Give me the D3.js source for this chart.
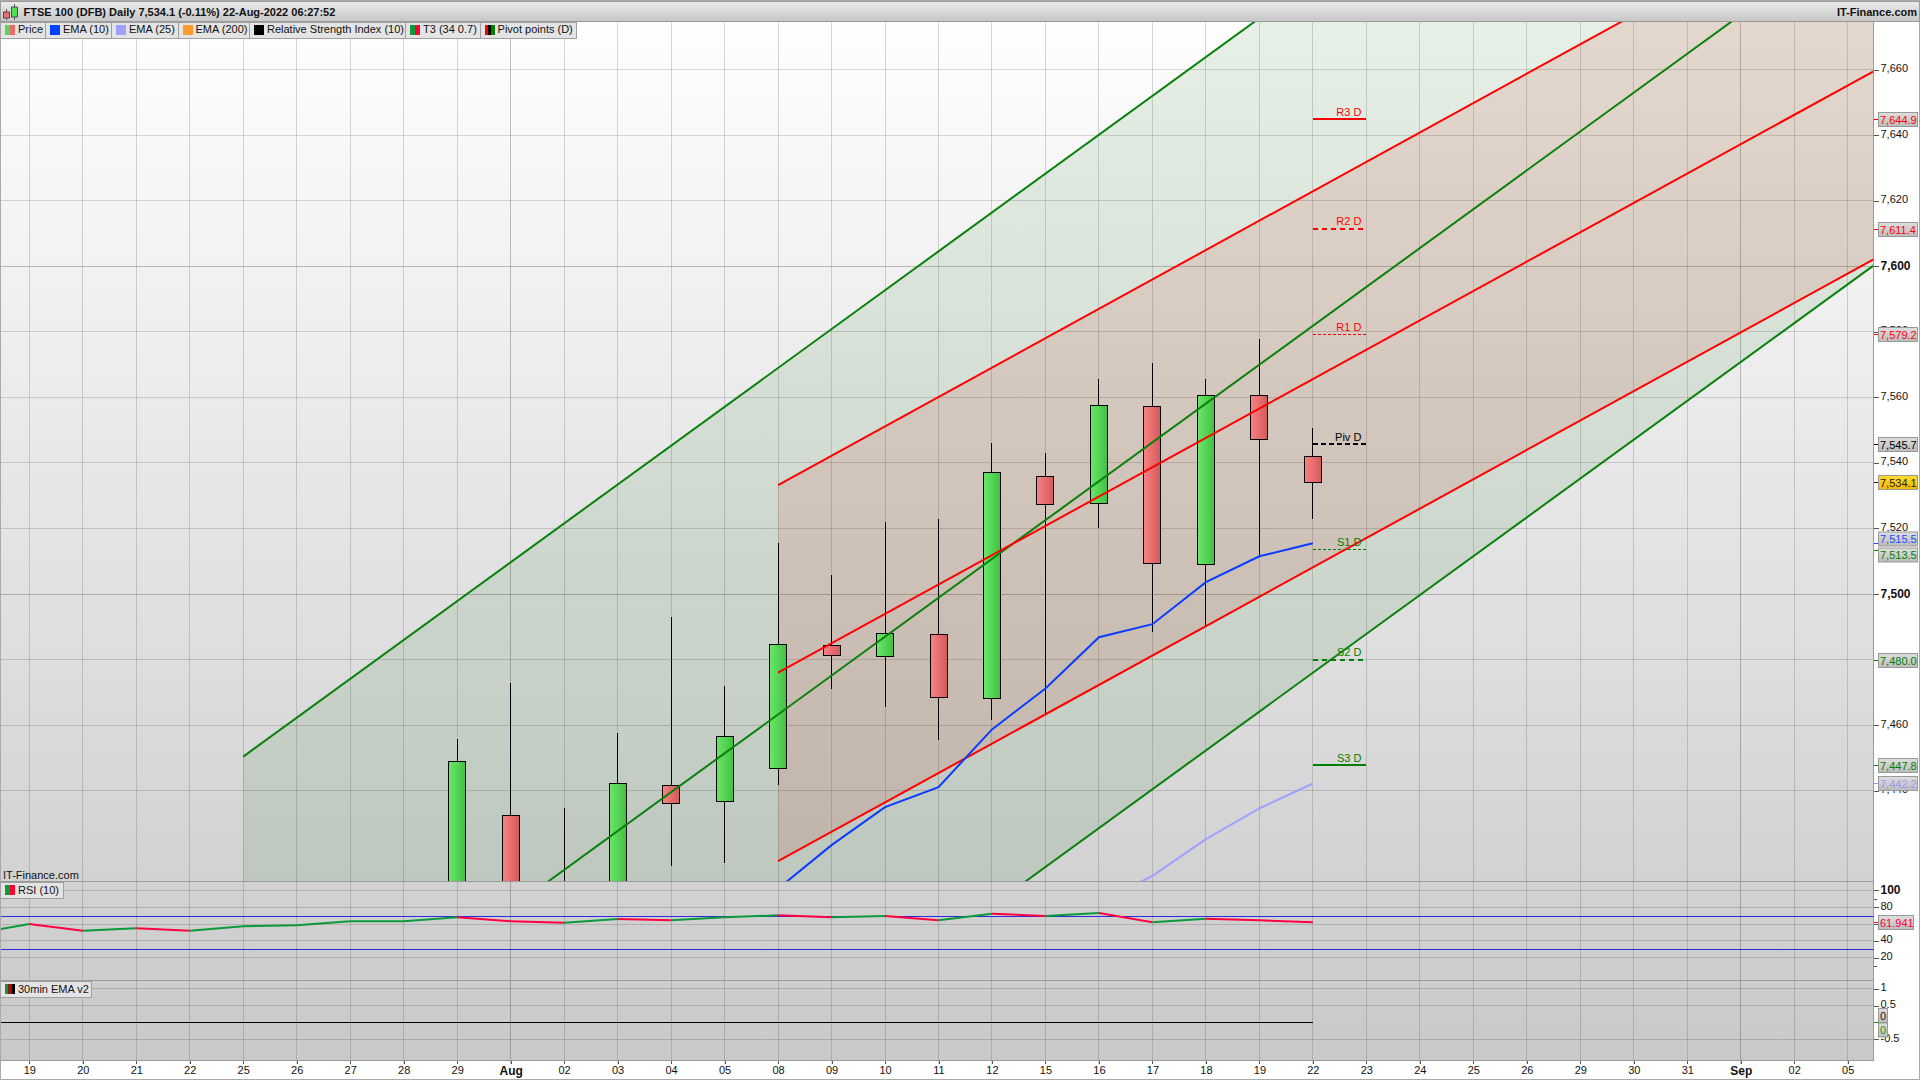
<!DOCTYPE html>
<html><head><meta charset="utf-8">
<script src="https://d3js.org/d3.v7.min.js"></script>
<style>
html,body{margin:0;padding:0;background:#fff;width:1920px;height:1080px;overflow:hidden}
svg{display:block;font-family:"Liberation Sans",Arial,sans-serif}
text{fill:#111}
</style></head><body><svg id="c" width="1920" height="1080"></svg>
<script>
// ---- data ----
const xLabels=['19','20','21','22','25','26','27','28','29','Aug','02','03','04','05','08','09','10','11','12','15','16','17','18','19','22','23','24','25','26','29','30','31','Sep','02','05'];
const candleIdx =[8,9,10,11,12,13,14,15,16,17,18,19,20,21,22,23,24];
const candleHigh=[7455.7,7472.8,7434.6,7457.5,7493,7471.8,7515.5,7505.8,7521.9,7522.9,7546,7542.9,7565.5,7570.4,7565.5,7577.7,7550.5];
const candleLow =[7380,7380,7380,7380,7417.1,7418,7441.8,7471.1,7465.6,7455.6,7461.7,7463.6,7520.2,7488.5,7490.2,7511.8,7522.9];
const candleOpen=[7395,7432.7,7395,7395,7441.8,7436.8,7446.8,7484.3,7481,7487.7,7468.2,7535.9,7527.7,7557.3,7509.1,7560.6,7542];
const candleClose=[7449,7395,7395,7442.2,7436.4,7456.6,7484.7,7481.3,7488,7468.5,7537.1,7527.4,7557.6,7509.4,7560.6,7547.2,7534.1];
const ema10Idx=[14,15,16,17,18,19,20,21,22,23,24];
const ema10=[7410.1,7423.4,7435,7441.1,7458.7,7471.2,7486.8,7490.8,7503.6,7511.5,7515.5];
const ema25Idx=[20,21,22,23,24];
const ema25=[7405.8,7414,7425.2,7434.6,7442.2];
const rsiIdx=[-0.55,0,1,2,3,4,5,6,7,8,9,10,11,12,13,14,15,16,17,18,19,20,21,22,23,24];
const rsi=[53.7,60,52,54.9,52,57.3,58.5,63.2,63.2,68,63.2,61.5,65.9,64.4,68,70.3,68,69.5,64.4,72.2,69.5,73.1,62,66.3,64.4,61.941];
const rsiLevels=[68.5,30];
const channelEndIdx=34.5;
const greenStartIdx=4;
const greenStart=[7450.4,7344.7,7239];
const greenEnd=[7812,7706.3,7600.4];
const redStartIdx=14;
const redStart=[7533.2,7476,7418.5];
const redEnd=[7717,7659.6,7602.2];
const pivotNames=['R3 D','R2 D','R1 D','Piv D','S1 D','S2 D','S3 D'];
const pivotValues=[7644.9,7611.4,7579.2,7545.7,7513.5,7480,7447.8];
const pivotColors=['#ff0000','#ff0000','#ff0000','#000000','#008000','#008000','#008000'];
const pivotWidths=[2,2,1,2,1,2,2];
const pivotDash=[null,'5 4','3 2','5 3','3 2','5 4',null];
const priceTicks=[7440,7460,7480,7500,7520,7540,7560,7580,7600,7620,7640,7660];
const priceBold=[7500,7600];
const rsiTicks=[100,80,60,40,20];
const rsiMinor=[90,10];
const emaTicks=[1,0.5,0,-0.5];
const legendNames=['Price','EMA (10)','EMA (25)','EMA (200)','Relative Strength Index (10)','T3 (34 0.7)','Pivot points (D)'];
const legendColors=[['#5fd35f','#e86a6a'],['#0040ff'],['#9f9fff'],['#ff9a2e'],['#000000'],['#0a9a3a','#ff0030'],['#ff0000','#000000','#008000']];
const legendEdges=[1,45,111,177.5,249,405,479.6,575.5];
const title='FTSE 100 (DFB) Daily 7,534.1 (-0.11%) 22-Aug-2022 06:27:52';

// ---- layout ----
const L=1,R=1873.5,T=22,MB=881,RB=980.5,EB=1060.5,W=1920,H=1080;
const svg=d3.select('#c');
const x=d3.scaleLinear().domain([0,34]).range([29.3,1847.7]);
const y=d3.scaleLinear().domain([7440,7660]).range([790.7,69.5]);
const yR=d3.scaleLinear().domain([20,100]).range([957.7,890.3]);
const yE=d3.scaleLinear().domain([-0.5,1]).range([1039.1,988.8]);
const defs=svg.append('defs');
function grad(id,stops,x2,y2){const g=defs.append('linearGradient').attr('id',id).attr('x1',0).attr('y1',0).attr('x2',x2).attr('y2',y2);
  stops.forEach((c,i)=>g.append('stop').attr('offset',i/(stops.length-1)).attr('stop-color',c));}
grad('bg',['#fefefe','#c9c9c9'],0,1);
grad('hdr',['#ececec','#c6c6c6'],0,1);
grad('gBody',['#6ae76a','#40c040'],1,0);
grad('rBody',['#f98282','#d45a5a'],1,0);
grad('tag',['#dedede','#bcbcbc'],0,1);
grad('tagY',['#ffdc30','#f5b800'],0,1);
defs.append('clipPath').attr('id','pm').append('rect').attr('x',L).attr('y',T).attr('width',R-L).attr('height',MB-T);
defs.append('clipPath').attr('id','pr').append('rect').attr('x',L).attr('y',MB).attr('width',R-L).attr('height',RB-MB);

// background
svg.append('rect').attr('x',L).attr('y',T).attr('width',R-L).attr('height',EB-T).attr('fill','url(#bg)');

// grids
const gridC='rgba(0,0,0,0.15)',gridM='rgba(0,0,0,0.23)';
const grid=svg.append('g').attr('shape-rendering','crispEdges');
d3.range(0,35).forEach(i=>{
  const major=xLabels[i]==='Aug'||xLabels[i]==='Sep';
  grid.append('line').attr('x1',x(i)).attr('x2',x(i)).attr('y1',T).attr('y2',EB+3).attr('stroke',major?gridM:gridC);
});
priceTicks.forEach(v=>grid.append('line').attr('x1',L).attr('x2',R).attr('y1',y(v)).attr('y2',y(v)).attr('stroke',priceBold.includes(v)?gridM:gridC));
rsiTicks.forEach(v=>grid.append('line').attr('x1',L).attr('x2',R).attr('y1',yR(v)).attr('y2',yR(v)).attr('stroke',gridC));
emaTicks.filter(v=>v!==0).forEach(v=>grid.append('line').attr('x1',L).attr('x2',R).attr('y1',yE(v)).attr('y2',yE(v)).attr('stroke',gridC));

// channels
const main=svg.append('g').attr('clip-path','url(#pm)');
function band(start,end,i0,fill){
  const a=d3.area().x(d=>x(d.i)).y0(d=>y(d.lo)).y1(d=>y(d.hi));
  main.append('path').attr('d',a([{i:i0,lo:start[2],hi:start[0]},{i:channelEndIdx,lo:end[2],hi:end[0]}])).attr('fill',fill);
}
band(greenStart,greenEnd,greenStartIdx,'rgba(0,103,0,0.09)');
band(redStart,redEnd,redStartIdx,'rgba(206,18,0,0.105)');

// candles
const cg=main.append('g');
candleIdx.forEach((idx,k)=>{
  const o=candleOpen[k],c=candleClose[k],up=c>=o;
  cg.append('line').attr('x1',x(idx)).attr('x2',x(idx)).attr('y1',y(candleHigh[k])).attr('y2',y(candleLow[k])).attr('stroke','#000').attr('stroke-width',1).attr('shape-rendering','crispEdges');
  cg.append('rect').attr('x',Math.round(x(idx)-9)+.5).attr('width',17)
    .attr('y',Math.round(y(Math.max(o,c)))+.5).attr('height',Math.max(1,Math.round(y(Math.min(o,c))-y(Math.max(o,c)))))
    .attr('fill',up?'url(#gBody)':'url(#rBody)').attr('stroke','#000').attr('stroke-width',1);
});

// channel lines
function chanLines(start,end,i0,col){
  start.forEach((s,j)=>main.append('line').attr('x1',x(i0)).attr('y1',y(s)).attr('x2',x(channelEndIdx)).attr('y2',y(end[j])).attr('stroke',col).attr('stroke-width',2));
}
chanLines(greenStart,greenEnd,greenStartIdx,'#0a800a');
chanLines(redStart,redEnd,redStartIdx,'#ff0000');

// EMA
const ln=d3.line().x(d=>x(d[0])).y(d=>y(d[1]));
main.append('path').attr('d',ln(d3.zip(ema25Idx,ema25))).attr('fill','none').attr('stroke','#a0a0ff').attr('stroke-width',2);
main.append('path').attr('d',ln(d3.zip(ema10Idx,ema10))).attr('fill','none').attr('stroke','#0a3cff').attr('stroke-width',2);

// pivots
pivotNames.forEach((n,k)=>{
  main.append('line').attr('x1',x(24)).attr('x2',x(25)).attr('y1',y(pivotValues[k])).attr('y2',y(pivotValues[k]))
    .attr('stroke',pivotColors[k]).attr('stroke-width',pivotWidths[k]).attr('stroke-dasharray',pivotDash[k]).attr('shape-rendering','crispEdges');
  main.append('text').attr('x',x(25)-5).attr('y',y(pivotValues[k])-3.5).attr('text-anchor','end').attr('font-size',11)
    .style('fill',pivotColors[k]).text(n);
});
main.append('text').attr('x',3).attr('y',879).attr('font-size',11).text('IT-Finance.com');

// panel frames
const frame=svg.append('g').attr('shape-rendering','crispEdges').attr('stroke','#9a9a9a');
[MB,RB,EB].forEach(v=>frame.append('line').attr('x1',L).attr('x2',R).attr('y1',v).attr('y2',v));
frame.append('line').attr('x1',R).attr('x2',R).attr('y1',T).attr('y2',EB);
frame.append('rect').attr('x',.5).attr('y',.5).attr('width',W-1).attr('height',H-1).attr('fill','none').attr('stroke','#aaa');

// RSI
const rg=svg.append('g').attr('clip-path','url(#pr)');
rsiLevels.forEach(v=>rg.append('line').attr('x1',L).attr('x2',R).attr('y1',yR(v)).attr('y2',yR(v)).attr('stroke','#2a2ae0').attr('stroke-width',1).attr('shape-rendering','crispEdges'));
d3.pairs(d3.zip(rsiIdx,rsi)).forEach(([a,b])=>{
  rg.append('line').attr('x1',x(a[0])).attr('y1',yR(a[1])).attr('x2',x(b[0])).attr('y2',yR(b[1]))
    .attr('stroke',b[1]>=a[1]?'#0a9a3a':'#ff0040').attr('stroke-width',2);
});
// 30min EMA
svg.append('line').attr('x1',L).attr('x2',x(24)).attr('y1',yE(0)).attr('y2',yE(0)).attr('stroke','#000').attr('stroke-width',1).attr('shape-rendering','crispEdges');

// axes
function styleAxis(g){g.select('.domain').remove();g.selectAll('.tick line').attr('stroke','#555').attr('shape-rendering','crispEdges');g.selectAll('text').style('fill','#111').attr('font-family','"Liberation Sans",Arial,sans-serif').attr('dy','0.18em');}
const fmtP=d3.format(',');
const ax=svg.append('g').attr('transform',`translate(${R},0)`).call(d3.axisRight(y).tickValues(priceTicks).tickFormat(fmtP).tickSize(5).tickPadding(2));
styleAxis(ax);
ax.selectAll('.tick text').attr('font-size',d=>priceBold.includes(d)?12:11).attr('font-weight',d=>priceBold.includes(d)?'bold':'normal').attr('dy',d=>priceBold.includes(d)?'0.3em':'0.18em');
const axR=svg.append('g').attr('transform',`translate(${R},0)`).call(d3.axisRight(yR).tickValues(rsiTicks).tickSize(5).tickPadding(2));
styleAxis(axR);
axR.selectAll('.tick text').attr('font-size',d=>d===100?12:11).attr('font-weight',d=>d===100?'bold':'normal').attr('dy',d=>d===100?'0.28em':'0.18em');
const axR2=svg.append('g').attr('transform',`translate(${R},0)`).call(d3.axisRight(yR).tickValues(rsiMinor).tickSize(3).tickFormat(''));
styleAxis(axR2);
const axE=svg.append('g').attr('transform',`translate(${R},0)`).call(d3.axisRight(yE).tickValues(emaTicks).tickSize(5).tickPadding(2).tickFormat(d=>d));
styleAxis(axE);
axE.selectAll('.tick text').attr('font-size',11);
const axX=svg.append('g').attr('transform',`translate(0,${EB})`).call(d3.axisBottom(x).tickValues(d3.range(0,35)).tickFormat(i=>xLabels[i]).tickSize(3).tickPadding(3));
axX.select('.domain').remove();
axX.selectAll('.tick line').attr('stroke','#555').attr('shape-rendering','crispEdges');
axX.selectAll('text').style('fill','#111').attr('font-family','"Liberation Sans",Arial,sans-serif');
axX.selectAll('.tick text').attr('font-size',d=>/[A-Z]/.test(xLabels[d])?12:11).attr('font-weight',d=>/[A-Z]/.test(xLabels[d])?'bold':'normal');

// value tags: the box may sit off its level when two values are close
function tag(yv,label,col,w,fill,off){
  const yy=Math.round(yv),by=yy+(off||0);
  svg.append('line').attr('x1',R).attr('x2',R+5).attr('y1',yy).attr('y2',yy).attr('stroke',col).attr('shape-rendering','crispEdges');
  svg.append('rect').attr('x',1878.5).attr('y',by-6.5).attr('width',w).attr('height',14).attr('fill',fill||'url(#tag)').attr('stroke','#999');
  svg.append('text').attr('x',1880).attr('y',by+4.5).attr('font-size',11).style('fill',col).text(label);
}
const fmt1=d3.format(',.1f');
pivotValues.forEach((v,k)=>tag(y(v),fmt1(v),pivotColors[k],39,null,k===4?4.5:0));
tag(y(ema10[ema10.length-1]),fmt1(ema10[ema10.length-1]),'#1a4cff',39,null,-4.5);
tag(y(ema25[ema25.length-1]),fmt1(ema25[ema25.length-1]),'#9a9aff',39);
tag(y(candleClose[candleClose.length-1]),fmt1(candleClose[candleClose.length-1]),'#222',39,'url(#tagY)');
tag(yR(rsi[rsi.length-1]),d3.format('.3f')(rsi[rsi.length-1]),'#ff0040',35);
tag(yE(0),'0','#222',9,null,-7);
tag(yE(0),'0','#14a014',9,null,7.5);

// header
svg.append('rect').attr('x',.5).attr('y',1).attr('width',W-1).attr('height',20.5).attr('fill','url(#hdr)').attr('stroke','#9a9a9a').attr('shape-rendering','crispEdges');
const ic=svg.append('g').attr('stroke','#222').attr('stroke-width',.7);
ic.append('line').attr('x1',6.5).attr('x2',6.5).attr('y1',9).attr('y2',20);
ic.append('rect').attr('x',3.5).attr('y',12).attr('width',6).attr('height',6).attr('fill','#ef7070');
ic.append('line').attr('x1',14.5).attr('x2',14.5).attr('y1',4).attr('y2',20);
ic.append('rect').attr('x',11.5).attr('y',7).attr('width',6).attr('height',10).attr('fill','#55dd55');
svg.append('text').attr('x',23.5).attr('y',16).attr('font-size',11).attr('font-weight','bold').text(title);
svg.append('text').attr('x',1917).attr('y',16).attr('font-size',11).attr('font-weight','bold').attr('text-anchor','end').text('IT-Finance.com');

// legends
function legendBox(x0,x1,y0,h,name,cols,dy){
  svg.append('rect').attr('x',x0+.5).attr('y',y0+.5).attr('width',x1-x0).attr('height',h).attr('fill','#e4e4e4').attr('stroke','#a0a0a0').attr('shape-rendering','crispEdges');
  const sw=10/cols.length;
  cols.forEach((c,i)=>svg.append('rect').attr('x',x0+5+i*sw).attr('y',y0+3).attr('width',sw).attr('height',10).attr('fill',c).attr('shape-rendering','crispEdges'));
  svg.append('text').attr('x',x0+18).attr('y',y0+dy).attr('font-size',11).text(name);
}
legendNames.forEach((n,k)=>legendBox(legendEdges[k]-(k?0:1),legendEdges[k+1],21.5,16.5,n,legendColors[k],11.5));
legendBox(0,62.5,882,16,'RSI (10)',['#0a9a3a','#ff0030'],11.5);
legendBox(0,91,981,16,'30min EMA v2',['#0a9a3a','#a01010','#000000'],11.5);
</script></body></html>
